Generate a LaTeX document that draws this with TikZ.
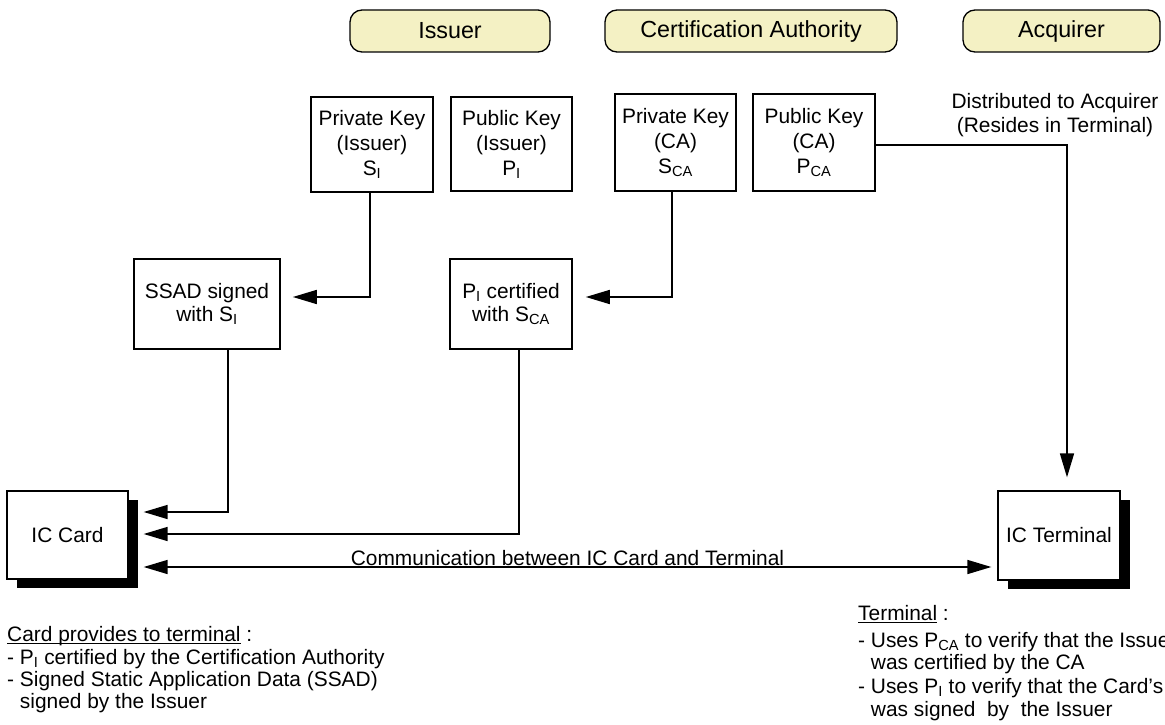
\documentclass[tikz,border=0pt]{standalone}
\usepackage{fontspec}
\setmainfont{Liberation Sans}
\usetikzlibrary{arrows.meta,shadows}
\definecolor{hdrfill}{RGB}{244,241,196}
\newcommand\sbs[1]{\textsubscript{#1}}
\newcommand\uln[1]{\setbox0\hbox{#1}\rlap{\rule[-2.5pt]{\wd0}{1pt}}\box0\relax}
\begin{document}
\begin{tikzpicture}[x=1pt,y=-1pt,
  every node/.style={font=\fontsize{20.9}{25}\selectfont},
  hdr/.style={draw, line width=1.3pt, rounded corners=12pt, fill=hdrfill, minimum height=42pt, inner sep=0pt,
     font=\fontsize{23.3}{25}\selectfont},
  keybox/.style={draw, line width=1.6pt, align=center, inner sep=0pt},
  devbox/.style={draw, line width=1.3pt, fill=white, inner sep=0pt, minimum width=121pt, minimum height=88pt,
     general shadow={fill=black, shadow xshift=10pt, shadow yshift=-9pt}},
  conn/.style={line width=1.6pt},
  arr/.style={conn, -{Triangle[length=24pt,width=14pt]}},
  darr/.style={conn, {Triangle[length=24pt,width=14pt]}-{Triangle[length=24pt,width=14pt]}},
  txt/.style={anchor=base west, inner sep=0pt}
]
\useasboundingbox (0,0) rectangle (1165,725);
\clip (0,0) rectangle (1165,725);

% headers
\node[hdr, minimum width=200pt] (hIss) at (450,31) {Issuer};
\node[hdr, minimum width=292pt] (hCA) at (751,31) {Certification Authority};
\node[hdr, minimum width=197pt] (hAcq) at (1061.5,31) {Acquirer};

% keys
\node[keybox, minimum width=122pt, minimum height=95pt] (skI) at (372,144.5) {Private Key\\(Issuer)\\S\sbs{I}};
\node[keybox, minimum width=121pt, minimum height=94pt] (pkI) at (511.5,144) {Public Key\\(Issuer)\\P\sbs{I}};
\node[keybox, minimum width=121pt, minimum height=97pt] (skCA) at (675.5,142.5) {Private Key\\(CA)\\S\sbs{CA}};
\node[keybox, minimum width=122pt, minimum height=97pt] (pkCA) at (814,142.5) {Public Key\\(CA)\\P\sbs{CA}};

% signed data
\node[keybox, minimum width=146pt, minimum height=90pt, font=\fontsize{20.9}{23.5}\selectfont] (ssad) at (207,304) {SSAD signed\\with S\sbs{I}};
\node[keybox, minimum width=122pt, minimum height=90pt, font=\fontsize{20.9}{23.5}\selectfont] (cert) at (511,304) {P\sbs{I} certified\\with S\sbs{CA}};

% devices
\node[devbox] (card) at (67.5,535) {IC Card};
\node[devbox, minimum width=122pt, minimum height=89pt] (term) at (1059,535.5) {IC Terminal};

% distribution note
\node[align=center, inner sep=0pt, font=\fontsize{20.9}{24}\selectfont] (dist) at (1055,115) {Distributed to Acquirer\\(Resides in Terminal)};

% connectors
\draw[arr] ([xshift=-2pt]skI.south) |- ([xshift=12pt,yshift=7pt]ssad.east);
\draw[arr] ([xshift=-3.5pt]skCA.south) |- ([xshift=13pt,yshift=7pt]cert.east);
\draw[arr] ([xshift=21pt]ssad.south) |- ([xshift=15pt,yshift=23pt]card.east);
\draw[arr] ([xshift=8pt]cert.south) |- ([xshift=15pt,yshift=1pt]card.east);
\draw[darr] ([xshift=15pt,yshift=-32pt]card.east) -- node[midway, above, inner sep=0.5pt] (comm) {Communication between IC Card and Terminal} ([xshift=-6pt,yshift=-31.5pt]term.west);
\draw[arr] ([yshift=-2.5pt]pkCA.east) -| ([xshift=8pt,yshift=13pt]term.north);

% card notes
\node[txt] (cn1) at (7,641) {\uln{Card provides to terminal} :};
\node[txt] (cn2) at (7,664) {- P\sbs{I} certified by the Certification Authority};
\node[txt] (cn3) at (7,686) {- Signed Static Application Data (SSAD)};
\node[txt] (cn4) at (7,708) {\phantom{- }signed by the Issuer};

% terminal notes
\node[txt] (tn1) at (858,620) {\uln{Terminal} :};
\node[txt] (tn2) at (858,647) {- Uses P\sbs{CA} to verify that the Issuer};
\node[txt] (tn3) at (858,669) {\phantom{- }was certified by the CA};
\node[txt] (tn4) at (858,693) {- Uses P\sbs{I} to verify that the Card’s};
\node[txt] (tn5) at (858,716) {\phantom{- }was signed\ \ by\ \ the Issuer};
\end{tikzpicture}
\end{document}
